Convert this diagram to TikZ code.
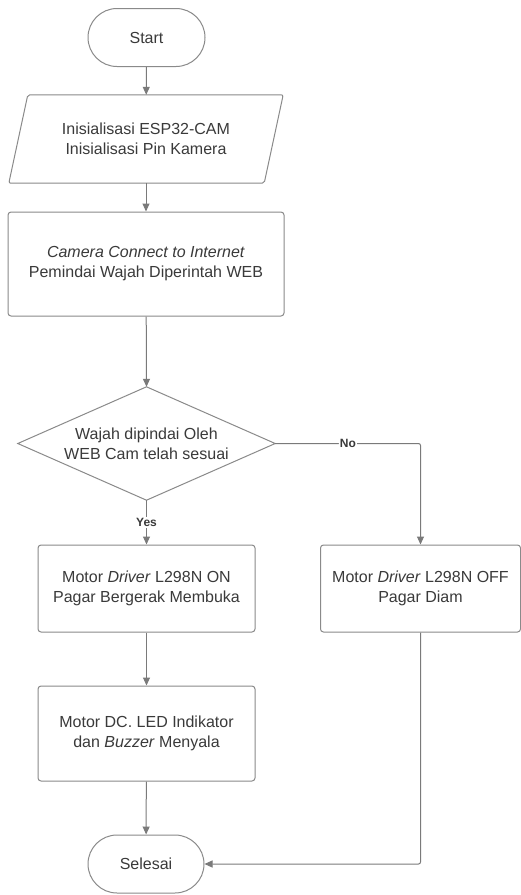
\documentclass[tikz,border=0pt]{standalone}
\usepackage{fontspec}
\setmainfont{Liberation Sans}
\usetikzlibrary{arrows.meta}
\definecolor{lineg}{HTML}{7A7A7A}
\definecolor{boxg}{HTML}{8A8A8A}
\definecolor{txtg}{HTML}{3A3A3A}
\begin{document}
\begin{tikzpicture}[x=1pt,y=-1pt,
  every node/.style={font=\fontsize{16}{20}\selectfont, text=txtg, align=center},
  term/.style={draw=boxg, line width=1pt, rectangle, rounded corners=29pt, minimum width=117pt, minimum height=58pt},
  procbox/.style={draw=boxg, line width=1pt, rectangle, rounded corners=3pt},
  ghost/.style={draw=none, inner sep=0pt},
  conn/.style={draw=lineg, line width=1pt, -{Triangle[length=8pt,width=7pt]}},
  lbl/.style={font=\fontsize{12}{14}\selectfont\bfseries, fill=white, inner sep=1pt}]
\useasboundingbox (0,0) rectangle (521,895);
\fill[white] (0,0) rectangle (521,895);

\node[term] (start) at (146.5,37.5) {Start};

\node[ghost, minimum width=274pt, minimum height=88pt] (init) at (146,139) {Inisialisasi ESP32-CAM\\Inisialisasi Pin Kamera};
\draw[draw=boxg, line width=1pt, rounded corners=2pt]
  ([xshift=19pt]init.north west) -- (init.north east) -- ([xshift=-19pt]init.south east) -- (init.south west) -- cycle;

\node[procbox, minimum width=276pt, minimum height=104pt] (cam) at (146,264) {\textit{Camera Connect to Internet}\\Pemindai Wajah Diperintah WEB};

\node[ghost, minimum width=257pt, minimum height=113pt] (dec) at (146.5,443.5) {Wajah dipindai Oleh\\WEB Cam telah sesuai};
\draw[draw=boxg, line width=1pt] (dec.north) -- (dec.east) -- (dec.south) -- (dec.west) -- cycle;

\node[procbox, minimum width=217pt, minimum height=87pt] (on) at (146.5,588.5) {Motor \textit{Driver} L298N ON\\Pagar Bergerak Membuka};

\node[procbox, minimum width=200pt, minimum height=87pt] (off) at (420.5,588.5) {Motor \textit{Driver} L298N OFF\\Pagar Diam};

\node[procbox, minimum width=217pt, minimum height=95pt] (led) at (146.5,733.5) {Motor DC. LED Indikator\\dan \textit{Buzzer} Menyala};

\node[term, minimum width=116pt] (sel) at (146,864) {Selesai};

\draw[conn] (start) -- (init);
\draw[conn] (init.south) -- (cam.north);
\draw[conn] (cam) -- (dec.north);
\draw[conn] (dec.south) -- node[lbl, pos=0.5] {Yes} (on.north);
\draw[conn, rounded corners=2pt] (dec.east) -| node[lbl, pos=0.25] {No} (off.north);
\draw[conn] (on) -- (led);
\draw[conn] (led) -- (sel);
\draw[conn, rounded corners=2pt] (off.south) |- (sel.east);
\end{tikzpicture}
\end{document}
